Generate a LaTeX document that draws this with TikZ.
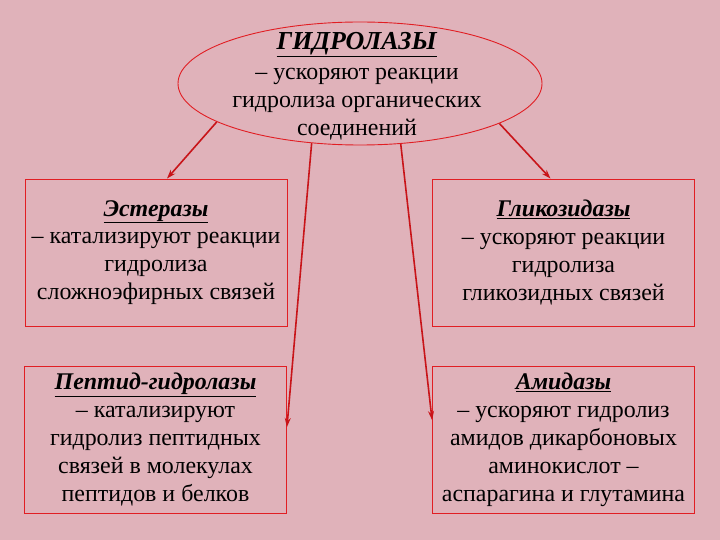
\documentclass[tikz,border=0pt]{standalone}
\usepackage{fontspec}
\setmainfont{Liberation Serif}
\usetikzlibrary{shapes.geometric,arrows.meta}
\definecolor{slidepink}{RGB}{224,178,186}
\definecolor{boxred}{RGB}{225,30,35}
\definecolor{arrowred}{RGB}{200,20,25}
\tikzset{
	enzbox/.style={draw=boxred, line width=0.9bp, minimum width=262bp, minimum height=147bp, align=center, font=\fontsize{24}{28}\selectfont},
	enzarrow/.style={draw=arrowred, line width=1.6bp, -{Stealth[length=9bp,width=6bp]}}
}
\newcommand{\enzname}[1]{\underline{\textbf{\textit{#1}}}}
\begin{document}
\begin{tikzpicture}[x=1bp,y=-1bp]

        \def\wslide{720}
        \def\hslide{540}
        \fill[slidepink] (0,0) rectangle (\wslide,\hslide);
        \useasboundingbox (0,0) rectangle (\wslide,\hslide);

				\node[ellipse, draw=boxred, line width=0.9bp, minimum width=364bp, minimum height=123bp] (hydro) at (360,83.5) {};
				\node[align=center, font=\fontsize{24}{28}\selectfont] (hydrotext) at (357,86) {{\fontsize{26}{28}\selectfont\enzname{ГИДРОЛАЗЫ}}\\[2bp] – ускоряют реакции\\ гидролиза органических\\ соединений};

				\node[enzbox] (ester) at (156,252.5) {\enzname{Эстеразы}\\ – катализируют реакции\\ гидролиза\\ сложноэфирных связей};
				\node[enzbox] (gliko) at (563.5,252.5) {\enzname{Гликозидазы}\\ – ускоряют реакции\\ гидролиза\\ гликозидных связей};
				\node[enzbox] (peptid) at (155.5,439.5) {\enzname{Пептид-гидролазы}\\ – катализируют\\ гидролиз пептидных\\ связей в молекулах\\ пептидов и белков};
				\node[enzbox] (amid) at (563.5,439.5) {\enzname{Амидазы}\\ – ускоряют гидролиз\\ амидов дикарбоновых\\ аминокислот –\\ аспарагина и глутамина};

%        arrows from the ellipse
			\draw[enzarrow] (hydro.195.5) -- ([xshift=11bp]ester.north);
			\draw[enzarrow] (hydro.344) -- ([xshift=-13bp]gliko.north);
			\draw[enzarrow] (hydro.231.7) -- ([yshift=12.5bp]peptid.east);
			\draw[enzarrow] (hydro.304) -- ([yshift=19.5bp]amid.west);

    \end{tikzpicture}
\end{document}
